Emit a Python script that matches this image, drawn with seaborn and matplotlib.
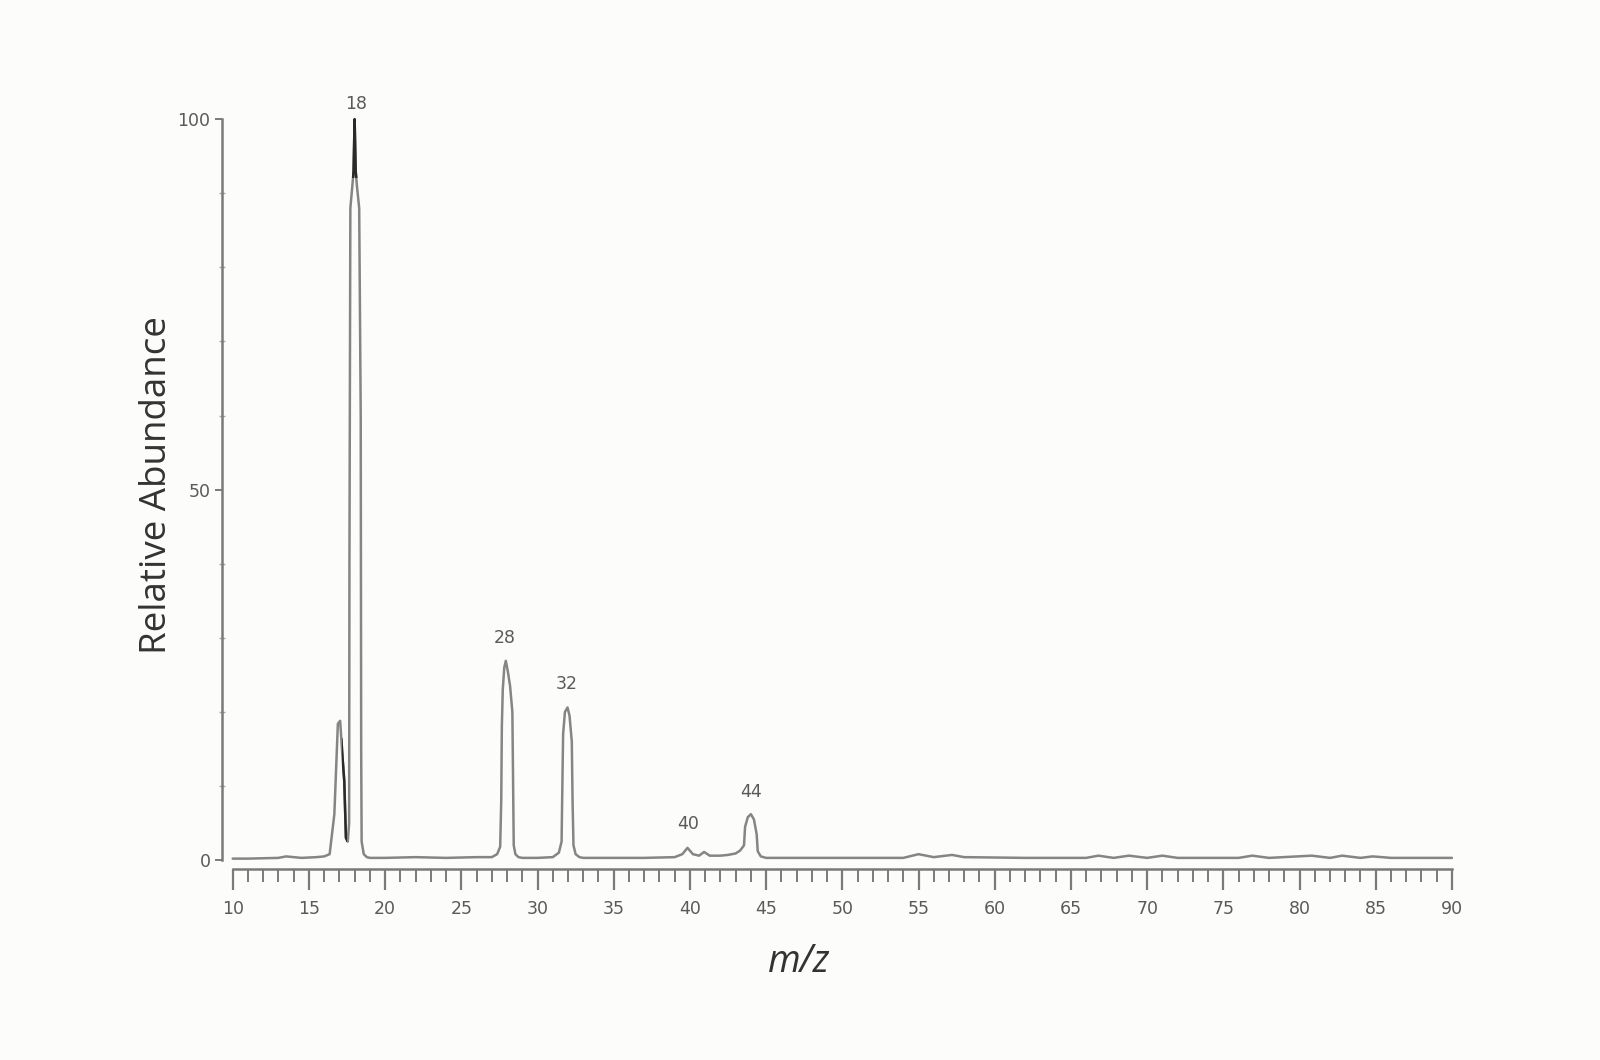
import matplotlib
matplotlib.use("Agg")
import matplotlib.pyplot as plt
import seaborn as sns
from matplotlib.patches import Rectangle
from matplotlib.ticker import MultipleLocator

# ---- data (profile trace) ----
mz = [10, 11, 12, 13, 13.5, 14, 14.5, 15, 15.5, 16.0, 16.36, 16.67, 16.9, 17.05,
      17.2, 17.32, 17.43, 17.55, 17.64, 17.66, 17.72, 17.85, 17.93, 18.0, 18.07,
      18.15, 18.3, 18.4, 18.43, 18.46, 18.6, 18.8, 19, 20, 22, 24, 26, 27.0, 27.35,
      27.55, 27.62, 27.66, 27.72, 27.82, 27.92, 28.05, 28.2, 28.35, 28.4, 28.44,
      28.55, 28.75, 29, 30, 31.0, 31.4, 31.58, 31.63, 31.68, 31.8, 31.97, 32.1, 32.25,
      32.3, 32.36, 32.5, 32.75, 33, 35, 37, 39, 39.5, 39.84, 40.2, 40.6, 40.93, 41.3,
      42.0, 42.5, 43.0, 43.3, 43.55, 43.62, 43.8, 44.0, 44.2, 44.38, 44.45, 44.65, 45,
      50, 54, 55, 56, 57.2, 58, 62, 66, 66.8, 67.8, 68.8, 70, 71, 72, 76, 76.9, 78,
      80.8, 82, 82.8, 84, 84.8, 86, 90]
abundance = [0.2, 0.2, 0.25, 0.3, 0.5, 0.4, 0.3, 0.35, 0.4, 0.5, 0.8, 6.2, 18.4, 18.8,
             14, 10.7, 3.0, 2.5, 5, 40, 88, 91, 93, 100, 93, 91, 88, 60, 15, 2.5, 0.8,
             0.4, 0.3, 0.3, 0.4, 0.3, 0.4, 0.4, 0.8, 1.8, 8, 18, 23, 26, 26.9, 25.5, 23.5,
             20, 10, 2, 0.8, 0.4, 0.3, 0.3, 0.4, 1.0, 2.5, 10, 17, 20, 20.6, 19.5, 16, 8,
             2, 0.8, 0.4, 0.3, 0.3, 0.3, 0.4, 0.8, 1.65, 0.8, 0.6, 1.1, 0.6, 0.6, 0.7,
             0.9, 1.3, 2.0, 4.5, 5.8, 6.2, 5.5, 3.5, 1.2, 0.5, 0.3, 0.3, 0.3, 0.8, 0.4,
             0.7, 0.4, 0.3, 0.3, 0.6, 0.3, 0.6, 0.3, 0.6, 0.3, 0.3, 0.6, 0.3, 0.6, 0.3,
             0.6, 0.3, 0.5, 0.3, 0.3]

peak_labels = ["18", "28", "32", "40", "44"]
peak_label_x = [18.07, 27.84, 31.93, 39.88, 44.03]
peak_label_y = [102.0, 30.0, 23.8, 4.9, 9.2]

x_ticks = list(range(10, 91, 5))
y_ticks = [0, 50, 100]

# ---- styling ----
sns.set_style("white")
plt.rcParams['font.family'] = ['Open Sans', 'DejaVu Sans']

bg = '#fcfcfa'
fig = plt.figure(figsize=(16, 10.6), dpi=100, facecolor=bg)
ax = fig.add_axes([221.5 / 1600, 191 / 1060, 1231.5 / 1600, 752 / 1060])
ax.set_facecolor(bg)

line_col = '#858585'
sns.lineplot(x=mz, y=abundance, ax=ax, color=line_col, lw=1.8,
             estimator=None, sort=False)
# darker segments visible in the reference (tip of the base peak, flank of m/z 17)
for rect in [(17.8, 92), (17.15, 2.5)]:
    sns.lineplot(x=mz, y=abundance, ax=ax, color='#2a2a2a', lw=1.8,
                 estimator=None, sort=False)
    dark = ax.lines[-1]
    w, h = (0.4, 10) if rect[1] > 50 else (0.33, 14)
    dark.set_clip_path(Rectangle(rect, w, h, transform=ax.transData))

ax.set_xlim(9.265, 90.07)
ax.set_ylim(-1.2, 100.3)

for sp in ['top', 'right']:
    ax.spines[sp].set_visible(False)
spine_col = '#7a7a7a'
ax.spines['left'].set_bounds(0, 100)
ax.spines['bottom'].set_bounds(10, 90)
for sp in ['left', 'bottom']:
    ax.spines[sp].set_color(spine_col)
    ax.spines[sp].set_linewidth(1.8)

ax.set_xticks(x_ticks)
ax.set_xticklabels([str(t) for t in x_ticks], family='DejaVu Sans')
ax.xaxis.set_minor_locator(MultipleLocator(1))
ax.set_yticks(y_ticks)
ax.set_yticklabels([str(t) for t in y_ticks], family='DejaVu Sans')
ax.yaxis.set_minor_locator(MultipleLocator(10))

ax.tick_params(axis='x', which='major', direction='out', length=15, width=1.6,
               color=spine_col, labelsize=12.5, labelcolor='#5a5a5a', pad=7,
               bottom=True)
ax.tick_params(axis='x', which='minor', direction='out', length=9, width=1.4,
               color=spine_col, bottom=True)
ax.tick_params(axis='y', which='major', direction='out', length=5, width=1.4,
               color=spine_col, labelsize=12.5, labelcolor='#5a5a5a', pad=3,
               left=True)
ax.tick_params(axis='y', which='minor', direction='inout', length=4, width=1.0,
               color='#aaaaaa', left=True)

ax.set_ylabel('Relative Abundance', fontsize=26.5, color='#333333')
ax.yaxis.set_label_coords(-0.038, 0.51)
ax.set_xlabel('m/z', fontsize=27, color='#333333', style='italic')
ax.xaxis.set_label_coords(0.469, -0.098)

for lab, px, py in zip(peak_labels, peak_label_x, peak_label_y):
    ax.text(px, py, lab, ha='center', va='center', fontsize=12.5,
            family='DejaVu Sans', color='#5a5a5a', clip_on=False)

fig.savefig('out.png', dpi=100, facecolor=bg)
